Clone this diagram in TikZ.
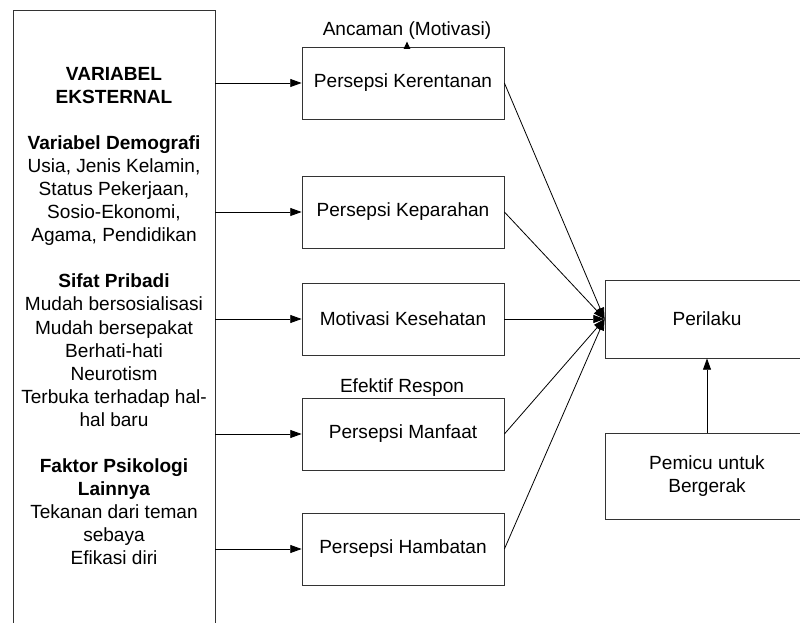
\documentclass[tikz,border=0pt]{standalone}
\usepackage{fontspec}
\setmainfont{Liberation Sans}
\usetikzlibrary{arrows.meta}
\begin{document}
\begin{tikzpicture}[x=0.75pt, y=-0.75pt, line width=0.6pt,
  font=\fontsize{14.3}{17.3}\selectfont,
  kotak/.style={draw=black!80, minimum width=151.5pt, minimum height=54pt, inner sep=0pt},
  panah/.style={-{Triangle[length=8.5pt,width=6pt]}}]
\useasboundingbox (0,0) rectangle (800,623);
\node[draw=black!80, minimum width=151.5pt, minimum height=472.5pt, anchor=north] (B_0_0) at (114,10) {};
\node[align=center] (T_0_0) at (114,316) {\textbf{VARIABEL}\\ \textbf{EKSTERNAL}\\[17.3pt]
  \textbf{Variabel Demografi}\\ Usia, Jenis Kelamin,\\ Status Pekerjaan,\\ Sosio-Ekonomi,\\ Agama, Pendidikan\\[17.3pt]
  \textbf{Sifat Pribadi}\\ Mudah bersosialisasi\\ Mudah bersepakat\\ Berhati-hati\\ Neurotism\\ Terbuka terhadap hal-\\ hal baru\\[17.3pt]
  \textbf{Faktor Psikologi}\\ \textbf{Lainnya}\\ Tekanan dari teman\\ sebaya\\ Efikasi diri};
\node[kotak] (B_1_0) at (403,83) {Persepsi Kerentanan};
\node[kotak] (B_1_1) at (403,212) {Persepsi Keparahan};
\node[kotak] (B_1_2) at (403,319) {Motivasi Kesehatan};
\node[kotak] (B_1_3) at (403,434) {Persepsi Manfaat};
\node[kotak] (B_1_4) at (403,549) {Persepsi Hambatan};
\node[kotak, minimum width=153pt, minimum height=58.5pt] (B_2_0) at (707,319) {Perilaku};
\node[kotak, minimum width=153pt, minimum height=64.5pt, align=center] (B_2_1) at (707,476) {Pemicu untuk\\ Bergerak};
\node[inner sep=1pt] (L_1_0) at (407,31) {Ancaman (Motivasi)};
\node[inner sep=1pt] (L_1_3) at (402,388) {Efektif Respon};
% panah dari variabel eksternal
\foreach \i in {0,...,4}
  \draw[panah] (B_0_0.east |- B_1_\i) -- (B_1_\i);
% panah menuju perilaku
\foreach \i in {0,...,4}
  \draw[panah] (B_1_\i.east) -- (B_2_0.west);
\draw[panah] (B_2_1) -- (B_2_0);
\draw[-{Triangle[length=5.5pt,width=5pt]}] (L_1_0.south |- B_1_0.north) -- (L_1_0.south);
\end{tikzpicture}
\end{document}
